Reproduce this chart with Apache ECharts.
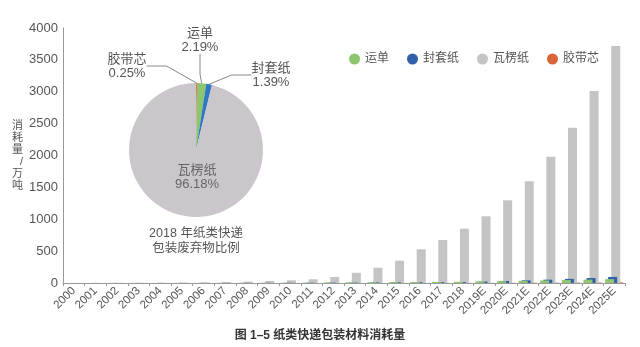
<!DOCTYPE html>
<html>
<head>
<meta charset="utf-8">
<script src="https://cdn.jsdelivr.net/npm/echarts@6/dist/echarts.min.js"></script>
<style>
  html, body { margin: 0; padding: 0; background: #fff; }
  #chart { width: 640px; height: 347px; }
</style>
</head>
<body>
<div id="chart"></div>
<script>
// Years on the category axis (E = estimate)
const years = ['2000','2001','2002','2003','2004','2005','2006','2007','2008','2009',
  '2010','2011','2012','2013','2014','2015','2016','2017','2018',
  '2019E','2020E','2021E','2022E','2023E','2024E','2025E'];

// Consumption of each paper packaging material, 10k tonnes
const waybill = [0.3,0.4,0.5,0.6,0.8,1,1.3,1.8,2.5,3.5,4.5,6,8,10,12,14,16,17,19,24,29,34,40,46,53,60];
const envelope = [0.2,0.3,0.3,0.4,0.5,0.6,0.8,1.1,1.5,2,3,4,5,6,8,10,12,13,14,22,32,42,52,64,78,95];
const corrugated = [2,3,4,5,6,8,11,16,22,32,42,58,95,160,240,350,529,675,852,1046,1297,1595,1981,2436,3012,3718];
const tapeCore = [0.1,0.1,0.1,0.1,0.1,0.1,0.1,0.1,0.1,0.1,0.1,0.2,0.2,0.4,0.6,0.9,1.4,1.8,2.2,2.7,3.4,4.1,5.1,6.3,7.8,9.6];

// 2018 share of paper express packaging waste, %
const shareNames = ['胶带芯', '运单', '封套纸', '瓦楞纸'];
const shareValues = [0.25, 2.19, 1.39, 96.18];
const shareColors = ['#e07060', '#8dc66f', '#2f79c0', '#cbc6cc'];

const FONT = "'Liberation Sans', 'Noto Sans CJK SC', sans-serif";
const TXT = '#555';

// label anchor points around the pie (text block centres)
const pieLabelPos = [
  { x: 127, y: 66 },
  { x: 200, y: 40 },
  { x: 271, y: 75 },
  { x: 197, y: 177 }
];

const chart = echarts.init(document.getElementById('chart'), null, { renderer: 'canvas' });

const barSeries = (name, data, color, z) => ({
  name, type: 'bar', data, z,
  barWidth: 9, barGap: '-66%',
  itemStyle: { color },
  emphasis: { disabled: true }
});

chart.setOption({
  animation: false,
  textStyle: { fontFamily: FONT },
  title: {
    text: '图 1–5 纸类快递包装材料消耗量',
    left: 'center', top: 325,
    textStyle: { fontSize: 12, fontWeight: 'bold', color: '#333', fontFamily: FONT }
  },
  legend: {
    data: ['运单', '封套纸', '瓦楞纸', '胶带芯'],
    left: 344, top: 48,
    icon: 'circle', itemWidth: 11, itemHeight: 11, itemGap: 18,
    textStyle: { fontSize: 12, color: TXT, fontFamily: FONT }
  },
  grid: { left: 63, right: 15, top: 28, bottom: 64 },
  xAxis: {
    type: 'category', data: years,
    axisLine: { lineStyle: { color: '#999', width: 1 } },
    axisTick: { show: true, length: 3, lineStyle: { color: '#999' } },
    axisLabel: { rotate: 45, fontSize: 11.5, color: TXT, margin: 6, interval: 0 }
  },
  yAxis: {
    type: 'value', min: 0, max: 4000, interval: 500,
    name: '消\n耗\n量\n/\n万\n吨',
    nameLocation: 'middle', nameRotate: 0, nameGap: 40,
    nameTextStyle: { fontSize: 11, lineHeight: 12, color: TXT, fontFamily: FONT },
    axisLine: { show: true, lineStyle: { color: '#999' } },
    axisTick: { show: false },
    splitLine: { show: false },
    axisLabel: { fontSize: 13, color: TXT, margin: 5, formatter: (v) => String(v) }
  },
  graphic: [{
    type: 'text',
    style: {
      x: 196, y: 226,
      text: '2018 年纸类快递\n包装废弃物比例',
      textAlign: 'center', fill: TXT,
      font: "12.5px " + FONT, lineHeight: 15
    }
  }],
  series: [
    barSeries('运单', waybill, '#8dc66f', 6),
    barSeries('封套纸', envelope, '#3360a8', 5),
    barSeries('瓦楞纸', corrugated, '#c4c4c4', 4),
    barSeries('胶带芯', tapeCore, '#d9643a', 3),
    {
      type: 'pie',
      center: [196, 150], radius: 67,
      startAngle: 90, clockwise: true,
      z: 10,
      silent: true,
      label: {
        show: true, formatter: '{b}\n{c}%',
        fontSize: 13, lineHeight: 14, color: TXT, fontFamily: FONT
      },
      labelLine: { show: true, length: 10, length2: 20, lineStyle: { color: '#888', width: 1 } },
      labelLayout: (p) => {
        const pos = pieLabelPos[p.dataIndex];
        return { x: pos.x, y: pos.y, align: 'center', verticalAlign: 'middle' };
      },
      data: shareNames.map((n, i) => {
        const item = { name: n, value: shareValues[i], itemStyle: { color: shareColors[i] } };
        if (i === 3) {
          item.label = { position: 'inside', color: '#666', fontSize: 13 };
          item.labelLine = { show: false };
        }
        return item;
      })
    }
  ]
});
</script>
</body>
</html>
